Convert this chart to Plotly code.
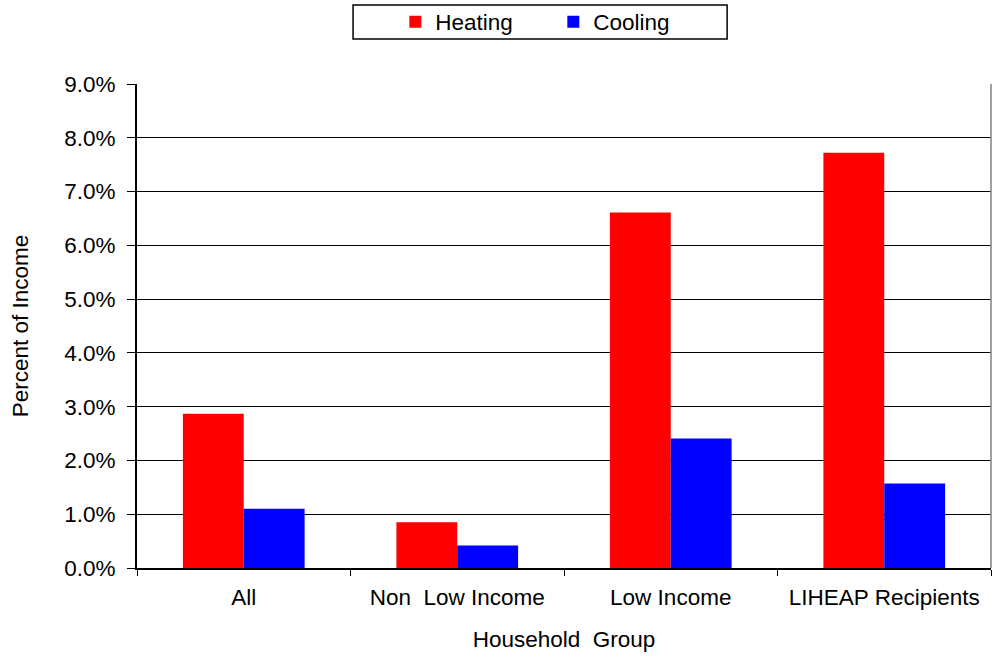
import plotly.graph_objects as go

categories = ["All", "Non\u00a0 Low Income", "Low Income", "LIHEAP Recipients"]
heating = [0.0287, 0.0085, 0.0661, 0.0772]
cooling = [0.0110, 0.0042, 0.0241, 0.0157]
y_ticks = [0.0, 0.01, 0.02, 0.03, 0.04, 0.05, 0.06, 0.07, 0.08, 0.09]

FONT = "Liberation Sans, Arial, sans-serif"
FS = 22.5

fig = go.Figure()
fig.add_trace(go.Bar(name="Heating", x=categories, y=heating,
                     marker=dict(color="#ff0000", line=dict(width=0))))
fig.add_trace(go.Bar(name="Cooling", x=categories, y=cooling,
                     marker=dict(color="#0000ff", line=dict(width=0))))

fig.update_layout(
    width=993, height=658,
    margin=dict(l=137, r=2, t=84, b=90, autoexpand=False),
    paper_bgcolor="white", plot_bgcolor="white",
    font=dict(family=FONT, size=FS, color="black"),
    barmode="group", bargap=0.43, bargroupgap=0,
    showlegend=True,
    legend=dict(orientation="h", x=0.4875, xanchor="center", y=1.128, yanchor="middle",
                bgcolor="rgba(0,0,0,0)", borderwidth=0,
                font=dict(family=FONT, size=FS, color="black"),
                itemwidth=30, entrywidth=113, traceorder="normal"),
    xaxis=dict(
        showline=True, linecolor="black", linewidth=2,
        ticks="outside", tickson="boundaries", ticklen=6, tickcolor="black", tickwidth=1,
        showgrid=False, ticklabelstandoff=8,
        title=dict(text="Household\u00a0 Group", standoff=22, font=dict(size=FS)),
        tickfont=dict(size=FS),
    ),
    yaxis=dict(
        range=[0, 0.09], tickvals=y_ticks, tickformat=".1%",
        showline=True, linecolor="black", linewidth=2,
        ticks="outside", ticklen=8, tickcolor="black", tickwidth=1,
        showgrid=True, gridcolor="black", gridwidth=1,
        zeroline=False, ticklabelstandoff=7,
        title=dict(text="Percent of Income", standoff=29, font=dict(size=FS)),
        tickfont=dict(size=FS),
    ),
    shapes=[
        dict(type="rect", xref="paper", yref="paper", x0=0.253, x1=0.691, y0=1.093, y1=1.163,
             line=dict(color="black", width=1.5), fillcolor="rgba(0,0,0,0)"),
        dict(type="line", xref="paper", yref="paper", x0=1, x1=1, y0=0, y1=1,
             line=dict(color="#808080", width=1.5)),
    ],
)

fig.write_html("out.html",
               config={"displayModeBar": False},
               post_script="document.body.style.margin='0';document.body.style.overflow='hidden';")
